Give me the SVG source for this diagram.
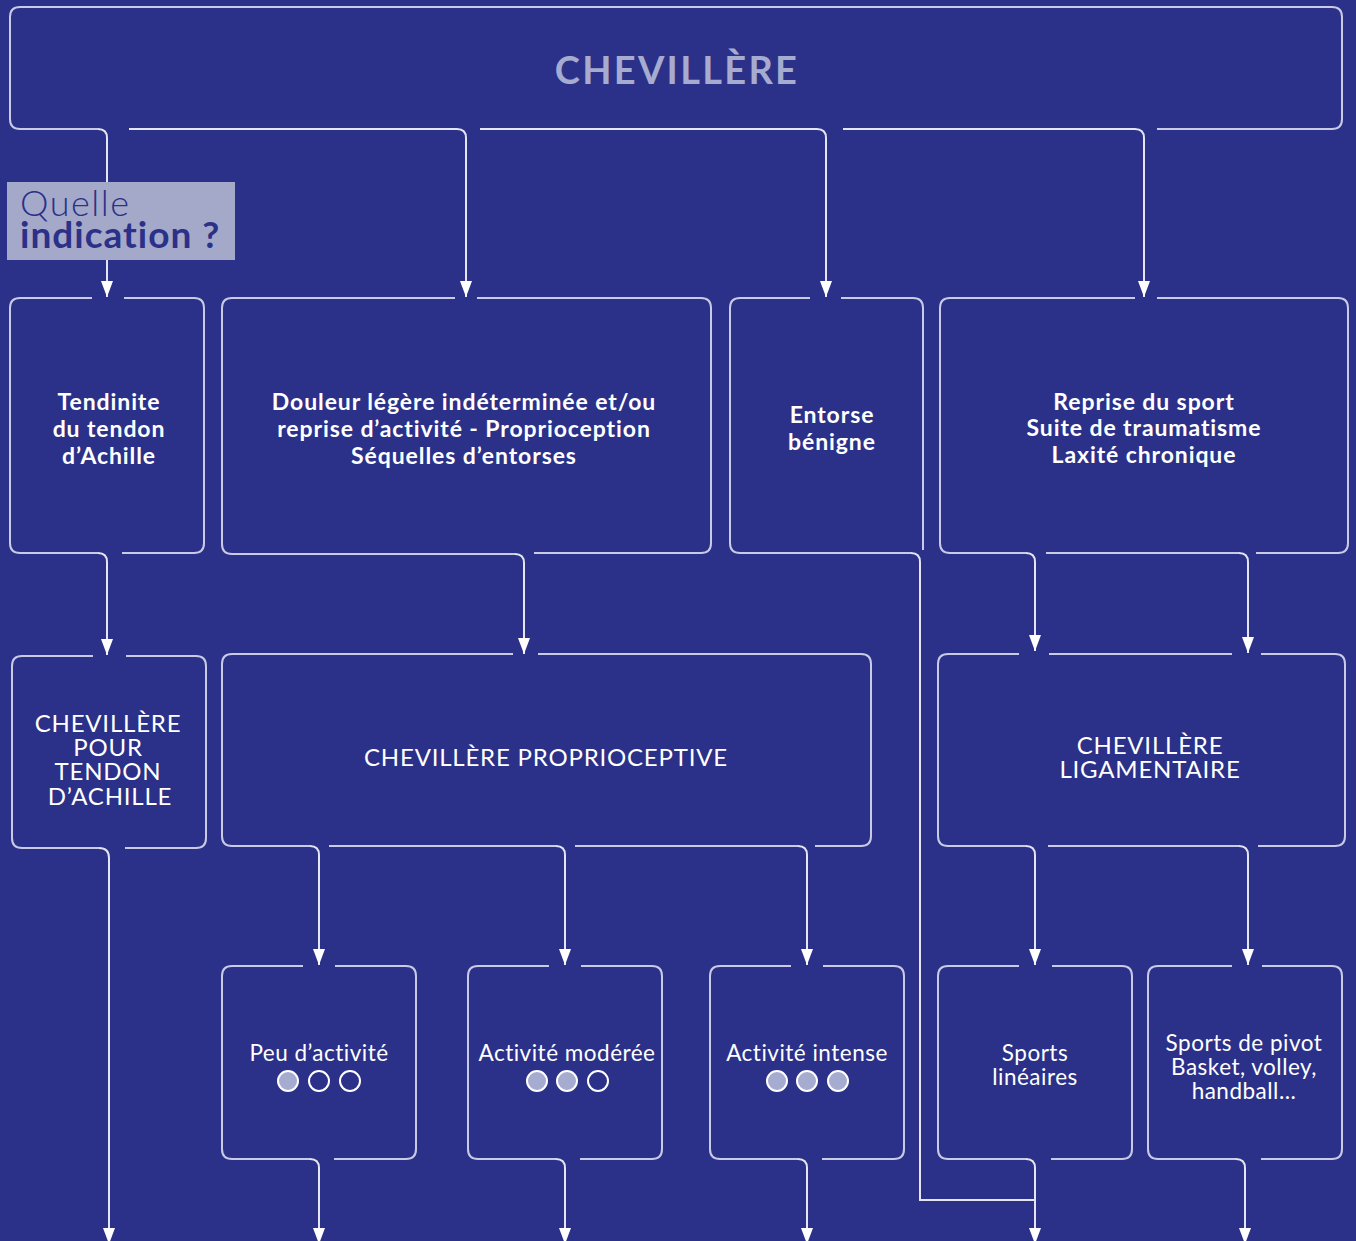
<svg xmlns="http://www.w3.org/2000/svg" width="1356" height="1241" viewBox="0 0 1356 1241">
<style>
.bx{fill:none;stroke:#c9cbe6;stroke-width:2}
.cn{fill:none;stroke:#e4e5f3;stroke-width:2}
.tb{font-family:Lato,"Open Sans",sans-serif;font-weight:bold;font-size:23px;letter-spacing:0.9px;fill:#fff;text-anchor:middle}
.tr{font-family:Lato,"Open Sans",sans-serif;font-size:24px;letter-spacing:0.8px;fill:#fff;text-anchor:middle}
.ts{font-family:Lato,"Open Sans",sans-serif;font-size:22.5px;letter-spacing:0.5px;fill:#fff;text-anchor:middle}
.ci{stroke:#fff;stroke-width:2;fill:none}
.cf{stroke:#fff;stroke-width:2;fill:#a6abd0}
</style>
<defs>
<marker id="ar" markerUnits="userSpaceOnUse" markerWidth="16" markerHeight="12" refX="16" refY="6" orient="auto" viewBox="0 0 16 12">
<path d="M0,0 L16,6 L0,12 z" fill="#fff"/>
</marker>
</defs>
<rect width="1356" height="1241" fill="#2b3188"/>

<g id="connectors">
<path class="cn" marker-end="url(#ar)" d="M98,129 Q107,129 107,138 V297"/>
<path class="cn" marker-end="url(#ar)" d="M129,129 H457 Q466,129 466,138 V297"/>
<path class="cn" marker-end="url(#ar)" d="M480,129 H817 Q826,129 826,138 V297"/>
<path class="cn" marker-end="url(#ar)" d="M843,129 H1135 Q1144,129 1144,138 V297"/>
<path class="cn" marker-end="url(#ar)" d="M98,553 Q107,553 107,562 V655"/>
<path class="cn" marker-end="url(#ar)" d="M515,554 Q524,554 524,563 V654"/>
<path class="cn" d="M911,553 Q920,553 920,562 V1200 H1035"/>
<path class="cn" marker-end="url(#ar)" d="M1026,553 Q1035,553 1035,562 V651"/>
<path class="cn" marker-end="url(#ar)" d="M1239,553 Q1248,553 1248,562 V653"/>
<path class="cn" marker-end="url(#ar)" d="M99,848 Q109,848 109,858 V1244"/>
<path class="cn" marker-end="url(#ar)" d="M310,846 Q319,846 319,855 V965"/>
<path class="cn" marker-end="url(#ar)" d="M556,846 Q565,846 565,855 V965"/>
<path class="cn" marker-end="url(#ar)" d="M798,846 Q807,846 807,855 V965"/>
<path class="cn" marker-end="url(#ar)" d="M1026,846 Q1035,846 1035,855 V965"/>
<path class="cn" marker-end="url(#ar)" d="M1239,846 Q1248,846 1248,855 V965"/>
<path class="cn" marker-end="url(#ar)" d="M310,1159 Q319,1159 319,1168 V1244"/>
<path class="cn" marker-end="url(#ar)" d="M556,1159 Q565,1159 565,1168 V1244"/>
<path class="cn" marker-end="url(#ar)" d="M798,1159 Q807,1159 807,1168 V1244"/>
<path class="cn" marker-end="url(#ar)" d="M1026,1159 Q1035,1159 1035,1168 V1244"/>
<path class="cn" marker-end="url(#ar)" d="M1236,1159 Q1245,1159 1245,1168 V1244"/>
</g>

<g id="top">
<path class="bx" d="M1157,129 H1332 Q1342,129 1342,119 V17 Q1342,7 1332,7 H20 Q10,7 10,17 V119 Q10,129 20,129 H98"/>
<text x="677" y="84" font-family="Lato,'Open Sans',sans-serif" font-weight="bold" font-size="38" fill="#a6abd0" text-anchor="middle" letter-spacing="2.3">CHEVILLÈRE</text>
</g>

<g id="question">
<rect x="7" y="182" width="228" height="78" fill="#a4a9c9"/>
<text x="20" y="216" font-family="Lato,'Open Sans',sans-serif" font-weight="300" font-size="36" letter-spacing="1.5" fill="#2b3188">Quelle</text>
<text x="20" y="248" font-family="Lato,'Open Sans',sans-serif" font-weight="bold" font-size="37" letter-spacing="1" fill="#2b3188">indication ?</text>
</g>

<g id="tendinite">
<path class="bx" d="M124,298 H194 Q204,298 204,308 V543 Q204,553 194,553 H122 M98,553 H20 Q10,553 10,543 V308 Q10,298 20,298 H92"/>
<text class="tb" x="109" y="410">Tendinite</text>
<text class="tb" x="109" y="437">du tendon</text>
<text class="tb" x="109" y="464">d’Achille</text>
</g>

<g id="douleur">
<path class="bx" d="M477,298 H701 Q711,298 711,308 V543 Q711,553 701,553 H534 M515,554 H232 Q222,554 222,544 V308 Q222,298 232,298 H455"/>
<text class="tb" x="464" y="410">Douleur légère indéterminée et/ou</text>
<text class="tb" x="464" y="437">reprise d’activité - Proprioception</text>
<text class="tb" x="464" y="464">Séquelles d’entorses</text>
</g>

<g id="entorse">
<path class="bx" d="M841,298 H913 Q923,298 923,308 V550 M911,553 H740 Q730,553 730,543 V308 Q730,298 740,298 H810"/>
<text class="tb" x="832" y="423">Entorse</text>
<text class="tb" x="832" y="450">bénigne</text>
</g>

<g id="reprise">
<path class="bx" d="M1157,298 H1338 Q1348,298 1348,308 V543 Q1348,553 1338,553 H1256 M1239,553 H1046 M1026,553 H950 Q940,553 940,543 V308 Q940,298 950,298 H1135"/>
<text class="tb" x="1144" y="410">Reprise du sport</text>
<text class="tb" x="1144" y="436">Suite de traumatisme</text>
<text class="tb" x="1144" y="463">Laxité chronique</text>
</g>

<g id="achille">
<path class="bx" d="M126,656 H196 Q206,656 206,666 V838 Q206,848 196,848 H125 M99,848 H22 Q12,848 12,838 V666 Q12,656 22,656 H93"/>
<text class="tr" x="108" y="732">CHEVILLÈRE</text>
<text class="tr" x="108" y="756">POUR</text>
<text class="tr" x="108" y="780">TENDON</text>
<text class="tr" x="110" y="805">D’ACHILLE</text>
</g>

<g id="proprio">
<path class="bx" d="M538,654 H861 Q871,654 871,664 V836 Q871,846 861,846 H815 M798,846 H575 M556,846 H329 M310,846 H232 Q222,846 222,836 V664 Q222,654 232,654 H513"/>
<text class="tr" x="546" y="766">CHEVILLÈRE PROPRIOCEPTIVE</text>
</g>

<g id="ligament">
<path class="bx" d="M1261,654 H1335 Q1345,654 1345,664 V836 Q1345,846 1335,846 H1258 M1239,846 H1048 M1026,846 H948 Q938,846 938,836 V664 Q938,654 948,654 H1019 M1049,654 H1232"/>
<text class="tr" x="1150" y="754">CHEVILLÈRE</text>
<text class="tr" x="1150" y="778">LIGAMENTAIRE</text>
</g>

<g id="peu">
<path class="bx" d="M335,966 H406 Q416,966 416,976 V1149 Q416,1159 406,1159 H334 M310,1159 H232 Q222,1159 222,1149 V976 Q222,966 232,966 H303"/>
<text class="ts" x="319" y="1061">Peu d’activité</text>
<circle class="cf" cx="288" cy="1081" r="10"/>
<circle class="ci" cx="319" cy="1081" r="10"/>
<circle class="ci" cx="350" cy="1081" r="10"/>
</g>

<g id="moderee">
<path class="bx" d="M581,966 H652 Q662,966 662,976 V1149 Q662,1159 652,1159 H580 M556,1159 H478 Q468,1159 468,1149 V976 Q468,966 478,966 H549"/>
<text class="ts" x="567" y="1061" letter-spacing="0.2">Activité modérée</text>
<circle class="cf" cx="537" cy="1081" r="10"/>
<circle class="cf" cx="567" cy="1081" r="10"/>
<circle class="ci" cx="598" cy="1081" r="10"/>
</g>

<g id="intense">
<path class="bx" d="M823,966 H894 Q904,966 904,976 V1149 Q904,1159 894,1159 H822 M798,1159 H720 Q710,1159 710,1149 V976 Q710,966 720,966 H791"/>
<text class="ts" x="807" y="1061">Activité intense</text>
<circle class="cf" cx="777" cy="1081" r="10"/>
<circle class="cf" cx="807" cy="1081" r="10"/>
<circle class="cf" cx="838" cy="1081" r="10"/>
</g>

<g id="lineaires">
<path class="bx" d="M1052,966 H1122 Q1132,966 1132,976 V1149 Q1132,1159 1122,1159 H1051 M1026,1159 H948 Q938,1159 938,1149 V976 Q938,966 948,966 H1019"/>
<text class="ts" x="1035" y="1061">Sports</text>
<text class="ts" x="1035" y="1085">linéaires</text>
</g>

<g id="pivot">
<path class="bx" d="M1262,966 H1332 Q1342,966 1342,976 V1149 Q1342,1159 1332,1159 H1261 M1236,1159 H1158 Q1148,1159 1148,1149 V976 Q1148,966 1158,966 H1232"/>
<text class="ts" x="1244" y="1051">Sports de pivot</text>
<text class="ts" x="1244" y="1075">Basket, volley,</text>
<text class="ts" x="1244" y="1099">handball...</text>
</g>
</svg>
